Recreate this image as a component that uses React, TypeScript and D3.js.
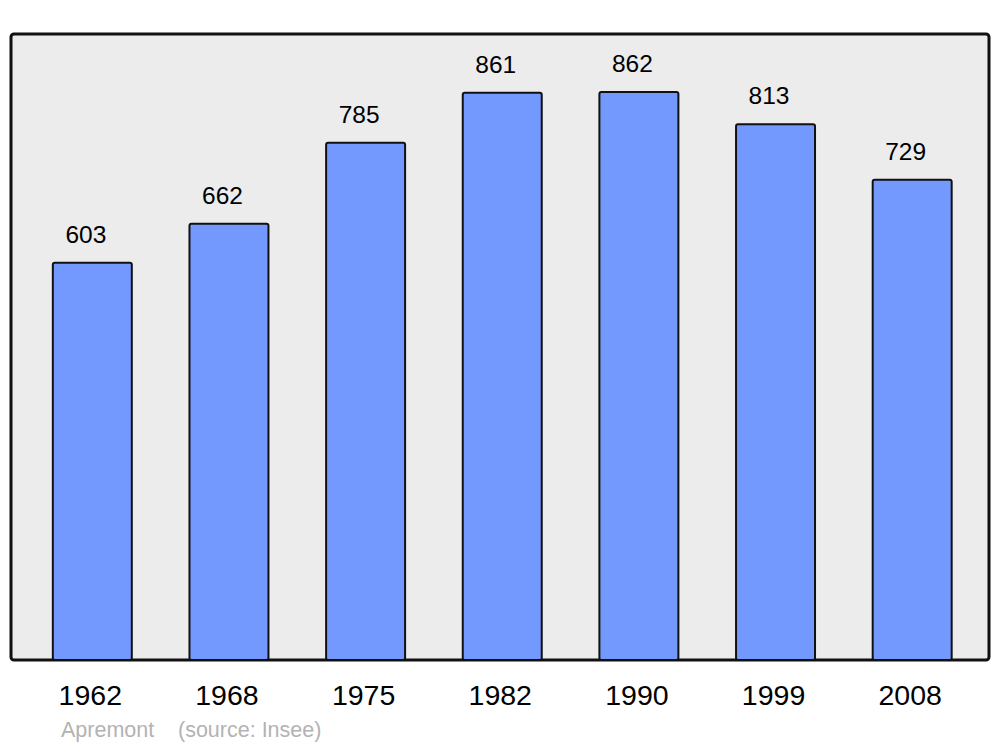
import React from "react";
import * as d3 from "d3";

const years = ["1962", "1968", "1975", "1982", "1990", "1999", "2008"];
const population = [603, 662, 785, 861, 862, 813, 729];
const townName = "Apremont";
const sourceText = "(source: Insee)";

export default function App() {
  const W = 1000, H = 747;
  const panel = { x: 11, y: 34, w: 978, h: 626 };
  const x = d3.scaleBand<string>().domain(years).range([24, 980.5]).paddingInner(0.422).paddingOuter(0.211);
  const y = d3.scaleLinear().domain([0, 950]).range([660, 34]);
  const font = "'Liberation Sans', Arial, sans-serif";
  return (
    <svg width={W} height={H} style={{ position: "absolute", left: 0, top: 0 }}>
      <rect x={panel.x} y={panel.y} width={panel.w} height={panel.h} rx={3} fill="#ececec" stroke="#111" strokeWidth={3} />
      {years.map((yr, i) => {
        const bx = x(yr)!;
        const bw = x.bandwidth();
        const top = y(population[i]);
        return (
          <g key={yr}>
            <rect x={bx} y={top} width={bw} height={660 - top} rx={2} fill="#7399ff" stroke="#111" strokeWidth={2} />
            <text x={bx + bw / 2 - 6.5} y={top - 20} textAnchor="middle" fontFamily={font} fontSize={24.5} fill="#000">
              {population[i]}
            </text>
            <text x={bx + bw / 2 - 2} y={705} textAnchor="middle" fontFamily={font} fontSize={28.5} fill="#000">
              {yr}
            </text>
          </g>
        );
      })}
      <text x={61} y={737} fontFamily={font} fontSize={21.5} fill="#b3b3b3">{townName}</text>
      <text x={178} y={737} fontFamily={font} fontSize={21.5} fill="#b3b3b3">{sourceText}</text>
    </svg>
  );
}
